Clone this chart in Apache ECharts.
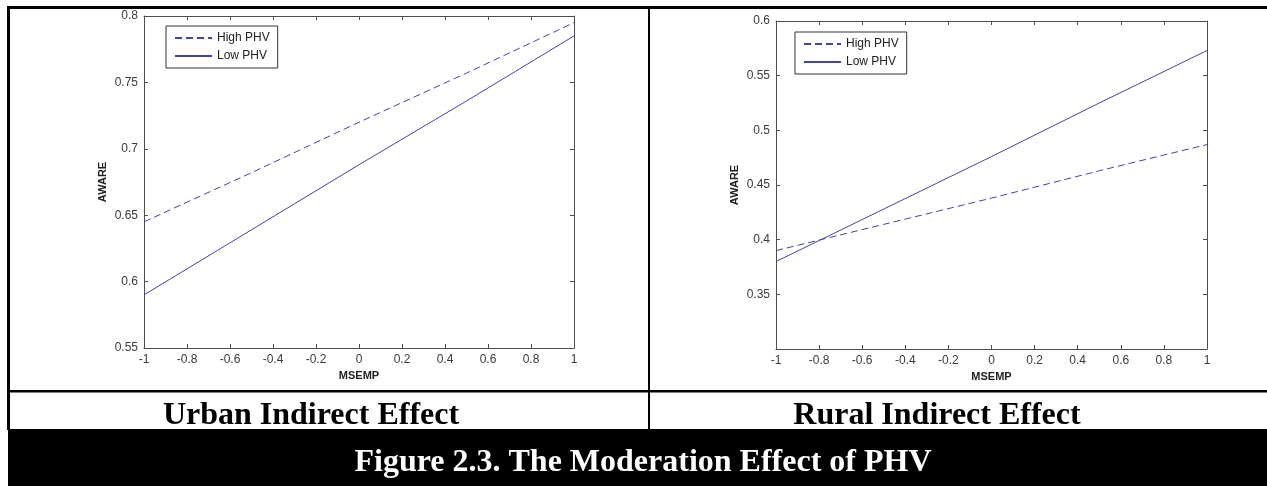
<!DOCTYPE html>
<html lang="en" style="height: 100%">
  <head>
    <meta charset="utf-8" />
  </head>
  <body style="height: 100%; margin: 0; background: #fff">
    <div id="container" style="width: 1267px; height: 486px"></div>

    <script
      type="text/javascript"
      src="https://cdn.jsdelivr.net/npm/echarts@6/dist/echarts.min.js"
    ></script>

    <script type="text/javascript">
      // MSEMP values where the lines were sampled
      var msemp = [-1, -0.5, 0, 0.5, 1];

      // urban panel
      var urbanHigh = [0.645, 0.682, 0.72, 0.757, 0.795];
      var urbanLow = [0.59, 0.639, 0.688, 0.736, 0.785];

      // rural panel
      var ruralHigh = [0.39, 0.414, 0.438, 0.463, 0.487];
      var ruralLow = [0.38, 0.428, 0.476, 0.525, 0.573];

      var panelTitles = ["Urban Indirect Effect", "Rural Indirect Effect"];
      var figureTitle = "Figure 2.3. The Moderation Effect of PHV";

      var lineColor = "#45459f";
      var axisColor = "#4d4d4d";
      var labelFont = "Liberation Sans";

      function pairs(xs, ys) {
        return xs.map(function (x, i) {
          return [x, ys[i]];
        });
      }

      function xAxes(gridIndex) {
        var base = {
          type: "value",
          gridIndex: gridIndex,
          min: -1,
          max: 1,
          interval: 0.2,
          splitLine: { show: false },
          axisLine: { onZero: false, lineStyle: { color: axisColor, width: 1 } },
          axisTick: { inside: true, length: 4, lineStyle: { color: axisColor } },
        };
        return [
          Object.assign({}, base, {
            position: "bottom",
            name: "MSEMP",
            nameLocation: "middle",
            nameGap: 22,
            nameTextStyle: {
              fontFamily: labelFont,
              fontWeight: "bold",
              fontSize: 11,
              color: "#222",
            },
            axisLabel: {
              margin: 6,
              fontFamily: labelFont,
              fontSize: 12,
              color: "#3a3a3a",
            },
          }),
          Object.assign({}, base, {
            position: "top",
            axisLabel: { show: false },
          }),
        ];
      }

      function yAxes(gridIndex, min, max, hideMin) {
        var base = {
          type: "value",
          gridIndex: gridIndex,
          min: min,
          max: max,
          interval: 0.05,
          splitLine: { show: false },
          axisLine: { onZero: false, lineStyle: { color: axisColor, width: 1 } },
          axisTick: { inside: true, length: 4, lineStyle: { color: axisColor } },
        };
        return [
          Object.assign({}, base, {
            position: "left",
            name: "AWARE",
            nameLocation: "middle",
            nameGap: 36,
            nameRotate: 90,
            nameTextStyle: {
              fontFamily: labelFont,
              fontWeight: "bold",
              fontSize: 11,
              color: "#222",
            },
            axisLabel: {
              margin: 6,
              fontFamily: labelFont,
              fontSize: 12,
              color: "#3a3a3a",
              formatter: function (v) {
                if (hideMin && Math.abs(v - min) < 1e-6) return "";
                return String(+v.toFixed(2));
              },
            },
          }),
          Object.assign({}, base, {
            position: "right",
            axisLabel: { show: false },
          }),
        ];
      }

      function lineSeries(name, data, xi, yi, dashed) {
        return {
          type: "line",
          name: name,
          xAxisIndex: xi,
          yAxisIndex: yi,
          data: data,
          symbol: "none",
          silent: true,
          lineStyle: {
            color: lineColor,
            width: 1,
            type: dashed ? [7, 4] : "solid",
          },
          itemStyle: { color: lineColor },
        };
      }

      function legend(left, top) {
        return {
          orient: "vertical",
          left: left,
          top: top,
          padding: [6, 8, 6, 8],
          itemGap: 6,
          itemWidth: 37,
          itemHeight: 12,
          borderColor: "#333",
          borderWidth: 1,
          borderRadius: 0,
          backgroundColor: "#fff",
          itemStyle: { opacity: 0 },
          data: ["High PHV", "Low PHV"],
          textStyle: { fontFamily: labelFont, fontSize: 12, color: "#222" },
          selectedMode: false,
        };
      }

      var dom = document.getElementById("container");
      var myChart = echarts.init(dom, null, { renderer: "canvas" });

      var option = {
        animation: false,
        backgroundColor: "#fff",
        grid: [
          { left: 144, right: 693, top: 16, bottom: 138 },
          { left: 776, right: 60, top: 21, bottom: 137 },
        ],
        xAxis: xAxes(0).concat(xAxes(1)),
        yAxis: yAxes(0, 0.55, 0.8, false).concat(yAxes(1, 0.3, 0.6, true)),
        legend: [legend(166, 26), legend(795, 32)],
        title: [
          {
            text: panelTitles[0],
            left: 306,
            top: 395,
            textAlign: "center",
            textStyle: { fontFamily: "Liberation Serif", fontWeight: "bold", fontSize: 32, color: "#000" },
          },
          {
            text: panelTitles[1],
            left: 932,
            top: 395,
            textAlign: "center",
            textStyle: { fontFamily: "Liberation Serif", fontWeight: "bold", fontSize: 32, color: "#000" },
          },
          {
            text: figureTitle,
            left: 638,
            top: 442,
            textAlign: "center",
            textStyle: { fontFamily: "Liberation Serif", fontWeight: "bold", fontSize: 32, color: "#fff" },
          },
        ],
        graphic: [
          { type: "rect", z: -1, shape: { x: 8, y: 429, width: 1259, height: 57 }, style: { fill: "#000" } },
          { type: "rect", shape: { x: 7, y: 6, width: 1260, height: 3 }, style: { fill: "#000" } },
          { type: "rect", shape: { x: 7, y: 6, width: 3, height: 424 }, style: { fill: "#000" } },
          { type: "rect", shape: { x: 648, y: 6, width: 2, height: 424 }, style: { fill: "#000" } },
          { type: "rect", shape: { x: 7, y: 390, width: 1260, height: 2.5 }, style: { fill: "#000" } },
        ],
        series: [
          lineSeries("High PHV", pairs(msemp, urbanHigh), 0, 0, true),
          lineSeries("Low PHV", pairs(msemp, urbanLow), 0, 0, false),
          lineSeries("High PHV", pairs(msemp, ruralHigh), 2, 2, true),
          lineSeries("Low PHV", pairs(msemp, ruralLow), 2, 2, false),
        ],
      };

      myChart.setOption(option);
      window.addEventListener("resize", myChart.resize);
    </script>
  </body>
</html>
